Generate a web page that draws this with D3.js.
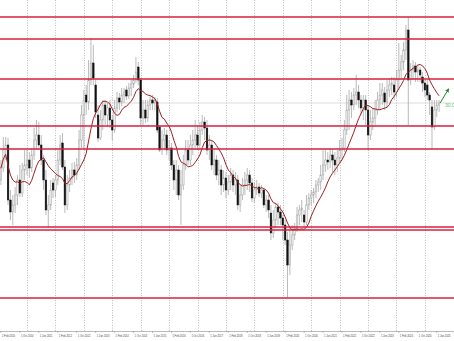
<!DOCTYPE html>
<html>
<head>
<meta charset="utf-8">
<script src="https://cdn.jsdelivr.net/npm/d3@7"></script>
<style>
  html, body { margin: 0; padding: 0; background: #fff; overflow: hidden; }
  svg { display: block; }
</style>
</head>
<body>
<svg id="chart" width="454" height="341"></svg>
<script>
// monthly bars, Feb 2010 .. Jul 2025
const opens = [
  22.3,23.5,25.3,25.8,20.3,19.1,19.8,20.8,22.3,21.0,
  23.3,23.8,24.3,23.5,24.8,26.3,26.8,25.8,24.3,22.3,
  19.3,19.8,22.0,21.3,22.3,24.3,26.0,23.6,19.8,21.8,
  22.5,23.3,22.8,23.8,26.3,28.8,30.8,30.1,32.3,34.0,
  31.8,28.8,26.5,28.3,29.8,28.8,29.5,28.3,27.3,29.5,
  30.5,30.1,30.8,31.3,30.7,31.5,31.9,32.3,33.6,32.3,
  28.5,29.3,28.5,29.8,30.3,30.0,30.1,27.6,25.3,26.3,
  26.8,25.3,25.5,23.8,22.3,23.3,20.8,21.8,23.8,25.3,
  24.3,25.8,26.3,26.8,25.8,27.3,28.1,27.5,25.3,25.8,
  23.8,24.3,22.8,23.3,21.8,22.5,21.3,22.1,22.8,21.8,
  22.3,19.8,20.8,21.8,22.3,22.8,22.0,20.5,21.3,21.6,
  21.0,21.3,19.8,20.3,19.0,17.0,18.3,19.6,19.1,18.5,
  17.8,16.3,13.8,15.8,16.8,17.5,18.8,19.3,18.8,18.1,
  19.8,20.5,20.8,21.1,21.8,22.1,22.8,23.8,24.3,24.1,
  24.8,24.3,23.8,24.5,25.3,25.5,27.3,29.3,30.3,29.8,
  30.8,31.1,30.3,29.5,30.3,29.3,26.8,28.1,28.5,29.3,
  30.3,30.8,31.0,30.1,31.3,31.8,31.8,31.1,32.3,33.3,
  34.1,35.3,37.3,32.3,33.3,33.7,33.1,33.3,32.6,32.0,
  31.8,30.8,29.6,27.6,29.3,29.8
];
const highs = [
  24.3,26.6,26.6,26.5,21.3,20.8,21.6,22.8,23.8,24.0,
  25.3,25.3,25.1,25.5,27.5,28.3,28.1,26.8,24.8,23.3,
  20.8,22.3,22.5,22.8,25.3,26.8,27.0,24.3,22.8,23.3,
  24.0,24.1,24.5,27.3,29.8,31.3,31.8,34.3,36.5,35.8,
  32.3,29.8,29.3,30.3,30.3,30.0,30.3,28.8,30.3,31.1,
  31.0,31.5,31.5,31.7,32.0,32.3,32.8,34.6,34.1,32.5,
  30.3,30.3,30.3,30.8,30.8,30.6,30.5,27.8,27.3,27.5,
  27.3,26.3,26.0,24.3,24.3,23.8,23.3,24.8,26.3,26.3,
  26.8,27.3,28.3,27.8,28.1,28.8,28.6,28.3,26.8,26.3,
  25.3,24.8,24.3,23.8,23.3,23.1,22.8,23.5,23.3,23.1,
  22.8,21.8,22.5,23.1,23.5,23.3,22.5,22.1,22.3,22.0,
  21.8,21.5,20.8,20.8,19.8,19.3,20.0,20.0,19.8,18.8,
  18.3,17.1,17.5,17.8,18.0,19.6,19.8,20.3,19.3,20.8,
  21.0,21.3,21.5,22.3,22.5,23.8,25.3,25.3,25.1,25.5,
  25.3,25.1,25.3,26.3,26.5,28.3,30.8,31.3,31.1,31.5,
  32.8,31.8,30.8,30.8,30.8,29.8,29.3,29.5,30.3,31.1,
  32.0,32.0,31.6,32.3,32.5,32.6,32.6,33.3,36.0,34.8,
  36.1,37.8,38.6,34.0,34.3,34.1,33.8,33.6,33.1,32.3,
  32.3,31.1,30.3,30.3,30.3,30.3
];
const lows = [
  21.8,23.1,24.3,19.8,18.3,17.8,19.0,19.8,20.6,20.6,
  22.3,22.8,22.5,23.1,24.3,25.3,25.3,23.8,21.3,18.8,
  17.5,19.3,20.5,20.6,21.8,23.8,23.3,19.0,19.3,21.1,
  21.8,22.0,22.3,23.3,25.5,25.3,28.8,29.3,31.8,31.8,
  28.5,26.1,26.3,27.3,27.8,27.6,27.5,26.3,27.0,29.1,
  29.3,29.7,30.0,30.3,30.4,30.7,31.5,32.0,31.8,27.8,
  27.8,28.0,28.1,29.3,29.3,29.3,27.0,25.1,24.8,25.3,
  24.8,24.3,23.3,21.3,20.8,20.3,17.8,21.3,23.3,23.8,
  23.8,24.8,25.3,25.3,25.3,26.8,26.3,24.8,24.3,23.3,
  22.8,22.3,21.8,20.8,21.1,20.5,20.8,21.3,21.1,20.8,
  19.3,19.1,20.3,20.8,21.3,21.1,20.1,20.0,20.8,20.6,
  20.5,19.5,19.1,18.5,16.3,16.5,17.5,17.8,17.8,16.3,
  15.8,10.5,12.8,15.3,16.3,17.1,17.8,18.1,17.5,17.8,
  19.3,19.8,20.0,20.5,21.1,21.3,22.3,23.1,23.3,23.5,
  23.1,22.8,23.1,24.0,24.3,25.1,26.8,27.3,28.5,29.3,
  29.8,29.5,28.8,28.3,27.8,25.3,26.3,27.3,27.8,28.8,
  29.3,29.8,29.3,29.5,30.6,30.8,30.3,30.6,31.3,32.3,
  33.3,34.3,27.8,31.8,32.3,32.1,32.1,32.1,31.1,30.6,
  30.3,28.8,25.3,27.3,28.6,29.1
];
const closes = [
  23.5,25.3,25.8,20.3,19.1,19.8,20.8,22.3,21.0,23.3,
  23.8,24.3,23.5,24.8,26.3,26.8,25.8,24.3,22.3,19.3,
  19.8,21.3,21.3,22.3,24.3,25.8,23.6,19.8,21.8,22.5,
  23.3,22.8,23.8,26.3,28.8,30.3,30.1,32.3,34.0,32.5,
  29.1,26.5,28.3,29.8,28.8,29.5,28.3,27.3,29.5,30.5,
  30.1,30.8,31.1,30.7,31.5,31.9,32.3,33.1,32.3,28.5,
  29.3,28.5,29.8,30.3,30.0,30.3,27.3,25.3,26.3,26.8,
  25.3,25.5,23.8,22.3,23.3,20.8,21.8,23.8,25.3,24.3,
  25.8,26.3,26.8,25.8,27.3,28.1,27.5,25.3,25.8,23.8,
  24.3,22.8,23.3,21.8,22.5,21.3,22.1,22.8,21.8,22.3,
  19.8,20.8,21.8,22.3,22.8,22.0,20.5,21.3,21.6,21.0,
  21.3,19.8,20.3,19.3,17.0,18.3,19.6,19.1,18.5,17.8,
  16.3,13.8,15.8,16.8,17.5,18.8,19.3,19.5,18.1,19.8,
  20.5,20.8,21.1,21.8,22.1,22.8,23.8,24.3,24.1,24.8,
  24.3,23.8,24.5,25.3,25.5,27.3,29.3,30.3,29.8,30.8,
  31.1,30.3,29.5,30.3,29.3,26.8,28.1,28.5,29.3,30.3,
  30.8,31.3,30.1,31.3,31.8,32.0,31.1,32.3,33.3,34.1,
  35.3,37.3,32.3,33.3,33.7,33.1,33.3,32.8,32.0,31.3,
  30.8,30.3,27.6,29.3,29.8,30.0
];

// horizontal levels (red lines)
const levels = [38.6, 36.4, 32.4, 27.7, 25.4, 17.6, 17.3, 10.5];

// time axis labels, one every 8 bars
const tickLabels = [
  "1 Feb 2010", "1 Oct 2010", "1 Jun 2011", "1 Feb 2012", "1 Oct 2012", "1 Jun 2013",
  "1 Feb 2014", "1 Oct 2014", "1 Jun 2015", "1 Feb 2016", "1 Oct 2016", "1 Jun 2017",
  "1 Feb 2018", "1 Oct 2018", "1 Jun 2019", "1 Feb 2020", "1 Oct 2020", "1 Jun 2021",
  "1 Feb 2022", "1 Oct 2022", "1 Jun 2023", "1 Feb 2024", "1 Oct 2024", "1 Jun 2025"
];

const maPeriod = 10;
// green arrow at the end: target bar offset and price
const arrowTarget = { bar: 189, price: 31.4 };

const width = 454, height = 341;
const plotBottom = 331;

const months = d3.timeMonth.range(new Date(2010, 1, 1), new Date(2025, 7, 1));
const bars = months.map((date, i) => ({
  i, date, open: opens[i], high: highs[i], low: lows[i], close: closes[i]
}));

const x = d3.scaleLinear().domain([0, bars.length - 1]).range([0.94, 439.1]);
const y = d3.scaleLinear().domain([40.3, 7.2]).range([0, plotBottom]);

const svg = d3.select('#chart');

// vertical dotted grid (every January)
svg.append('g')
  .selectAll('line')
  .data(bars.filter(d => d.date.getMonth() === 0))
  .join('line')
  .attr('x1', d => Math.round(x(d.i)) + 0.5)
  .attr('x2', d => Math.round(x(d.i)) + 0.5)
  .attr('y1', 0)
  .attr('y2', plotBottom)
  .attr('stroke', '#ababab')
  .attr('stroke-width', 0.8)
  .attr('stroke-dasharray', '1,1.5');

// bid line at last close
const last = bars[bars.length - 1];
svg.append('line')
  .attr('x1', 0).attr('x2', width)
  .attr('y1', y(last.close)).attr('y2', y(last.close))
  .attr('stroke', '#d4d4d4')
  .attr('stroke-width', 0.8);

// candles
const bodyW = 1.6;
const candle = svg.append('g')
  .selectAll('g')
  .data(bars)
  .join('g');

candle.append('line')
  .attr('x1', d => x(d.i)).attr('x2', d => x(d.i))
  .attr('y1', d => y(d.high)).attr('y2', d => y(d.low))
  .attr('stroke', '#a8a8a8')
  .attr('stroke-width', 0.8);

candle.append('rect')
  .attr('x', d => x(d.i) - bodyW / 2)
  .attr('width', bodyW)
  .attr('y', d => y(Math.max(d.open, d.close)))
  .attr('height', d => Math.max(0.6, Math.abs(y(d.open) - y(d.close))))
  .attr('fill', d => d.close >= d.open ? '#f2f2f2' : '#111')
  .attr('stroke', d => d.close >= d.open ? '#a4a4a4' : '#111')
  .attr('stroke-width', 0.5);

// moving average of closes
const ma = bars.map((d, i) => ({
  i,
  v: d3.mean(closes.slice(Math.max(0, i - maPeriod + 1), i + 1))
}));
svg.append('path')
  .datum(ma)
  .attr('fill', 'none')
  .attr('stroke', '#9e1f22')
  .attr('stroke-width', 1)
  .attr('d', d3.line().x(d => x(d.i)).y(d => y(d.v)));

// red horizontal levels
svg.append('g')
  .selectAll('line')
  .data(levels)
  .join('line')
  .attr('x1', 0).attr('x2', width)
  .attr('y1', d => Math.round(y(d))).attr('y2', d => Math.round(y(d)))
  .attr('stroke', '#d4203f')
  .attr('stroke-width', 1.6);

// green arrow + label
const ax0 = x(last.i) + 1, ay0 = y(last.close);
const ax1 = x(arrowTarget.bar), ay1 = y(arrowTarget.price);
svg.append('defs').append('marker')
  .attr('id', 'arr')
  .attr('viewBox', '0 0 10 10')
  .attr('refX', 8).attr('refY', 5)
  .attr('markerWidth', 4).attr('markerHeight', 4)
  .attr('orient', 'auto')
  .append('path')
  .attr('d', 'M0,0 L10,5 L0,10 z')
  .attr('fill', '#1f8a1f');
svg.append('line')
  .attr('x1', ax0).attr('y1', ay0)
  .attr('x2', ax1).attr('y2', ay1)
  .attr('stroke', '#1f8a1f')
  .attr('stroke-width', 1)
  .attr('marker-end', 'url(#arr)');
svg.append('text')
  .attr('x', ax0 + 5)
  .attr('y', ay0 + 3.5)
  .attr('fill', '#5cc27a')
  .attr('font-family', 'Liberation Sans, Arial, sans-serif')
  .attr('font-size', 5)
  .text(d3.format('.1f')(last.close));

// time axis
svg.append('line')
  .attr('x1', 0).attr('x2', width)
  .attr('y1', plotBottom + 0.5).attr('y2', plotBottom + 0.5)
  .attr('stroke', '#8c8c8c')
  .attr('stroke-width', 0.6);

const labelBars = bars.filter(d => d.i % 8 === 0);
const axis = svg.append('g');
axis.selectAll('line')
  .data(labelBars)
  .join('line')
  .attr('x1', d => x(d.i)).attr('x2', d => x(d.i))
  .attr('y1', plotBottom).attr('y2', plotBottom + 2)
  .attr('stroke', '#8c8c8c')
  .attr('stroke-width', 0.5);
axis.selectAll('text')
  .data(labelBars)
  .join('text')
  .attr('x', d => x(d.i) + 1)
  .attr('y', plotBottom + 6)
  .attr('fill', '#444')
  .attr('font-family', 'Liberation Sans, Arial, sans-serif')
  .attr('font-size', 2.6)
  .text((d, k) => tickLabels[k]);
</script>
</body>
</html>
